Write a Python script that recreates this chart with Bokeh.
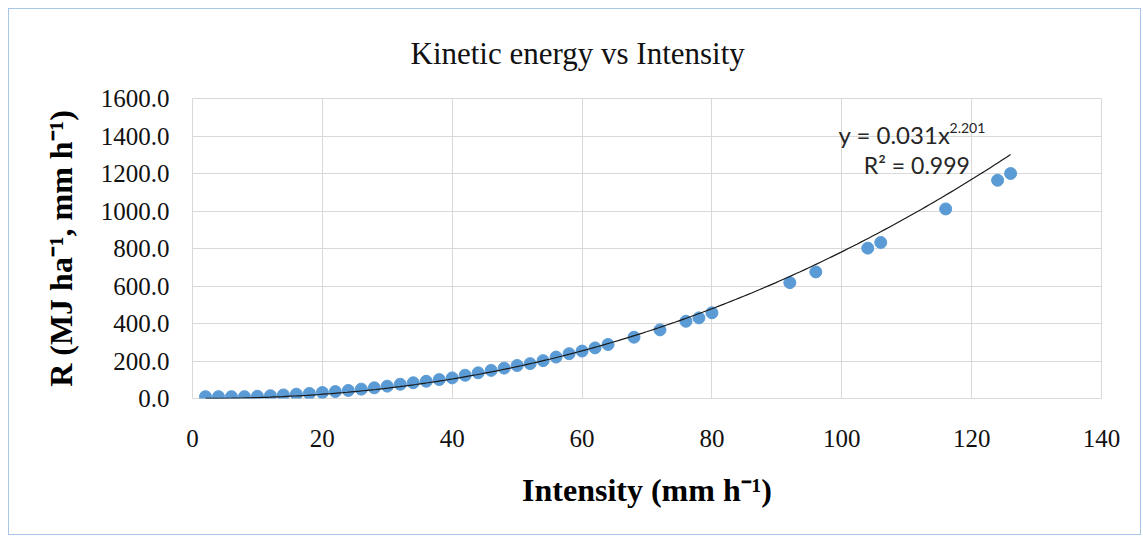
from bokeh.plotting import figure
from bokeh.models import Range1d, NumeralTickFormatter, Label, ColumnDataSource
from bokeh.embed import file_html
from bokeh.resources import INLINE
import numpy as np

# ---- data ----
intensity = [2, 4, 6, 8, 10, 12, 14, 16, 18, 20, 22, 24, 26, 28, 30, 32,
             34, 36, 38, 40, 42, 44, 46, 48, 50, 52, 54, 56, 58, 60, 62, 64,
             68, 72, 76, 78, 80, 92, 96, 104, 106, 116, 124, 126]
r_values = [10, 10, 10, 10, 12, 15, 19, 23, 27, 32, 37, 43, 50, 57, 66, 76,
            84, 92, 101, 110, 124, 137, 150, 162, 176, 186, 202, 221, 239, 253, 270, 288,
            327, 366, 412, 430, 457, 618, 675, 802, 832, 1011, 1164, 1200]
fit_a = 0.031
fit_b = 2.201
fit_x_min = 2
fit_x_max = 126
x_ticks = [0, 20, 40, 60, 80, 100, 120, 140]
y_ticks = [0, 200, 400, 600, 800, 1000, 1200, 1400, 1600]

title_text = "Kinetic energy vs Intensity"
x_label = "Intensity (mm h\u207b\u00b9)"
y_label = "R (MJ ha\u207b\u00b9, mm h\u207b\u00b9)"
eq_text = "y = 0.031x"
eq_sup = "2.201"
r2_text = "R\u00b2 = 0.999"

SERIF = "Liberation Serif"

p = figure(width=1133, height=527, output_backend="svg", toolbar_location=None,
           x_range=Range1d(0, 140), y_range=Range1d(0, 1600),
           min_border_left=183, min_border_right=41, min_border_top=89, min_border_bottom=138)
p.styles = {"border": "1px solid #A9C5E8", "box-sizing": "border-box",
            "margin-left": "8px", "margin-top": "8px"}

p.title.text = title_text
p.title.align = "left"
p.title.offset = 218
p.title.vertical_align = "top"
p.title.text_font = SERIF
p.title.text_font_size = "31px"
p.title.text_font_style = "normal"
p.title.text_color = "#111111"
p.title.standoff = 51

p.outline_line_color = "#D9D9D9"
p.outline_line_width = 1
p.background_fill_color = "white"
p.border_fill_color = "white"

for g in (p.xgrid, p.ygrid):
    g.grid_line_color = "#D9D9D9"
    g.grid_line_width = 1

p.xaxis.ticker = x_ticks
p.yaxis.ticker = y_ticks
p.yaxis.formatter = NumeralTickFormatter(format="0.0")
for ax in (p.xaxis, p.yaxis):
    ax.axis_line_color = None
    ax.major_tick_line_color = None
    ax.minor_tick_line_color = None
    ax.major_label_text_font = SERIF
    ax.major_label_text_font_size = "25px"
    ax.major_label_text_color = "#111111"
    ax.axis_label_text_font = SERIF
    ax.axis_label_text_font_size = "32px"
    ax.axis_label_text_font_style = "bold"
    ax.axis_label_text_color = "#000000"

p.xaxis.axis_label = x_label
p.yaxis.axis_label = y_label
p.xaxis.major_label_standoff = 25
p.xaxis.axis_label_standoff = 22
p.yaxis.major_label_standoff = 17
p.yaxis.axis_label_standoff = 19

src = ColumnDataSource(data=dict(x=intensity, y=r_values))
p.scatter("x", "y", source=src, size=12, fill_color="#5B9BD5", line_color="#5B9BD5")

fx = np.linspace(fit_x_min, fit_x_max, 200)
fy = fit_a * fx ** fit_b
p.line(fx, fy, line_color="#1a1a1a", line_width=1.2)

ANN = "Lato"
p.add_layout(Label(x=99.5, y=1410, text=eq_text, text_font=ANN, text_font_size="24px",
                   text_color="#262626", text_baseline="middle"))
p.add_layout(Label(x=116.6, y=1442, text=eq_sup, text_font=ANN, text_font_size="14px",
                   text_color="#262626", text_baseline="middle"))
p.add_layout(Label(x=103.4, y=1245, text=r2_text, text_font=ANN, text_font_size="23px",
                   text_color="#262626", text_baseline="middle"))

open("out.html", "w").write(file_html(p, INLINE))
